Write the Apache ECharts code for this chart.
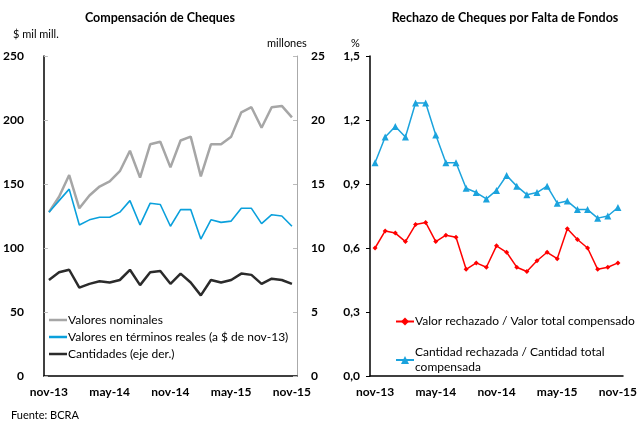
<!DOCTYPE html>
<html>
<head>
<meta charset="utf-8">
<script src="https://cdn.jsdelivr.net/npm/echarts@6/dist/echarts.min.js"></script>
<style>
  html, body { margin: 0; padding: 0; background: #fff; }
  #chart { width: 640px; height: 424px; }
</style>
</head>
<body>
<div id="chart"></div>
<script>
// meses nov-13 .. nov-15
const meses = ['nov-13','dic-13','ene-14','feb-14','mar-14','abr-14','may-14','jun-14','jul-14','ago-14','sep-14','oct-14',
  'nov-14','dic-14','ene-15','feb-15','mar-15','abr-15','may-15','jun-15','jul-15','ago-15','sep-15','oct-15','nov-15']

// panel izquierdo
const nominales = [128, 140, 157, 131, 141, 148, 152, 160, 176, 155, 181, 183, 163, 184, 187, 156, 181, 181, 187, 206, 210, 194, 210, 211, 202]
const reales = [128, 137, 146, 118, 122, 124, 124, 128, 137, 118, 135, 134, 117, 130, 130, 107, 122, 120, 121, 131, 131, 119, 126, 125, 117]
const cantidades = [7.5, 8.1, 8.3, 6.9, 7.2, 7.4, 7.3, 7.5, 8.3, 7.1, 8.1, 8.2, 7.2, 8.0, 7.3, 6.3, 7.5, 7.3, 7.5, 8.0, 7.9, 7.2, 7.6, 7.5, 7.2]

// panel derecho
const valorRech = [0.60, 0.68, 0.67, 0.63, 0.71, 0.72, 0.63, 0.66, 0.65, 0.50, 0.53, 0.51, 0.61, 0.58, 0.51, 0.49, 0.54, 0.58, 0.55, 0.69, 0.64, 0.60, 0.50, 0.51, 0.53]
const cantRech = [1.0, 1.12, 1.17, 1.12, 1.28, 1.28, 1.13, 1.0, 1.0, 0.88, 0.86, 0.83, 0.87, 0.94, 0.89, 0.85, 0.86, 0.89, 0.81, 0.82, 0.78, 0.78, 0.74, 0.75, 0.79]

const font = 'Lato, "DejaVu Sans", sans-serif'
const lineIcon = 'path://M0,4L18,4L18,6.5L0,6.5Z'
const chart = echarts.init(document.getElementById('chart'))

const xAxisBase = {
  type: 'category',
  data: meses,
  boundaryGap: true,
  axisLine: { lineStyle: { color: '#000', width: 1.5 } },
  axisTick: { inside: true, interval: 5, length: 4, lineStyle: { color: '#bbb' } },
  axisLabel: { interval: 5, color: '#000', fontWeight: 'bold', fontSize: 12, fontFamily: font, margin: 10 }
}
const yLabel = { color: '#000', fontWeight: 'bold', fontSize: 12, fontFamily: font }

chart.setOption({
  animation: false,
  title: [
    { text: 'Compensación de Cheques', left: 155, top: 6, textAlign: 'center',
      textStyle: { fontSize: 12.5, fontWeight: 'bold', fontFamily: font, color: '#000' } },
    { text: 'Rechazo de Cheques por Falta de Fondos', left: 500, top: 6, textAlign: 'center',
      textStyle: { fontSize: 12.5, fontWeight: 'bold', fontFamily: font, color: '#000' } },
    { text: '$ mil mill.', left: 8, top: 24, textStyle: { fontSize: 11, fontWeight: 'normal', fontFamily: font, color: '#000' } },
    { text: 'millones', left: 262, top: 33, textStyle: { fontSize: 11, fontWeight: 'normal', fontFamily: font, color: '#000' } },
    { text: '%', left: 346, top: 33, textStyle: { fontSize: 11, fontWeight: 'normal', fontFamily: font, color: '#000' } },
    { text: 'Fuente: BCRA', left: 6, top: 405, textStyle: { fontSize: 11, fontWeight: 'normal', fontFamily: font, color: '#000' } }
  ],
  grid: [
    { left: 43, right: 343, top: 56, bottom: 48 },
    { left: 370, right: 15, top: 56, bottom: 48 }
  ],
  legend: [
    {
      orient: 'vertical', left: 44, top: 309, itemGap: 5, itemWidth: 18, itemHeight: 10,
      data: [
        { name: 'Valores nominales', icon: lineIcon },
        { name: 'Valores en términos reales (a $ de nov-13)', icon: lineIcon },
        { name: 'Cantidades (eje der.)', icon: lineIcon }
      ],
      textStyle: { fontSize: 12, fontFamily: font, color: '#000', padding: [0, 0, 0, -4] }
    },
    {
      orient: 'vertical', left: 390, top: 309, itemGap: 16, itemWidth: 18, itemHeight: 10,
      data: ['Valor rechazado / Valor total compensado', 'Cantidad rechazada / Cantidad total\ncompensada'],
      textStyle: { fontSize: 12, fontFamily: font, color: '#000', padding: [0, 0, 0, -4], lineHeight: 15 }
    }
  ],
  xAxis: [
    Object.assign({ gridIndex: 0 }, xAxisBase),
    Object.assign({ gridIndex: 1 }, xAxisBase)
  ],
  yAxis: [
    { gridIndex: 0, type: 'value', min: 0, max: 250, interval: 50,
      axisLine: { show: true, lineStyle: { color: '#000', width: 1.5 } },
      axisTick: { show: true, inside: true, length: 4, lineStyle: { color: '#bbb' } },
      splitLine: { show: false },
      axisLabel: Object.assign({ margin: 20 }, yLabel) },
    { gridIndex: 0, type: 'value', position: 'right', min: 0, max: 25, interval: 5,
      axisLine: { show: true, lineStyle: { color: '#aaa', width: 1 } },
      axisTick: { show: true, inside: true, length: 4, lineStyle: { color: '#bbb' } },
      splitLine: { show: false },
      axisLabel: Object.assign({ margin: 14 }, yLabel) },
    { gridIndex: 1, type: 'value', min: 0, max: 1.5, interval: 0.3,
      axisLine: { show: true, lineStyle: { color: '#000', width: 1.5 } },
      axisTick: { show: true, inside: false, length: 4, lineStyle: { color: '#000' } },
      splitLine: { show: false },
      axisLabel: Object.assign({ margin: 10, formatter: v => v.toFixed(1).replace('.', ',') }, yLabel) }
  ],
  series: [
    { name: 'Valores nominales', type: 'line', xAxisIndex: 0, yAxisIndex: 0, data: nominales,
      symbol: 'none', itemStyle: { color: '#a6a6a6' }, lineStyle: { color: '#a6a6a6', width: 2.5 } },
    { name: 'Valores en términos reales (a $ de nov-13)', type: 'line', xAxisIndex: 0, yAxisIndex: 0, data: reales,
      symbol: 'none', itemStyle: { color: '#0aa0dc' }, lineStyle: { color: '#0aa0dc', width: 1.6 } },
    { name: 'Cantidades (eje der.)', type: 'line', xAxisIndex: 0, yAxisIndex: 1, data: cantidades,
      symbol: 'none', itemStyle: { color: '#2b2b2b' }, lineStyle: { color: '#2b2b2b', width: 2.5 } },
    { name: 'Valor rechazado / Valor total compensado', type: 'line', xAxisIndex: 1, yAxisIndex: 2, data: valorRech,
      symbol: 'diamond', symbolSize: 5, showAllSymbol: true,
      itemStyle: { color: '#ff0000' }, lineStyle: { color: '#ff0000', width: 1.5 } },
    { name: 'Cantidad rechazada / Cantidad total\ncompensada', type: 'line', xAxisIndex: 1, yAxisIndex: 2, data: cantRech,
      symbol: 'triangle', symbolSize: 7, showAllSymbol: true,
      itemStyle: { color: '#1ba3dd' }, lineStyle: { color: '#1ba3dd', width: 1.5 } }
  ]
})
</script>
</body>
</html>
